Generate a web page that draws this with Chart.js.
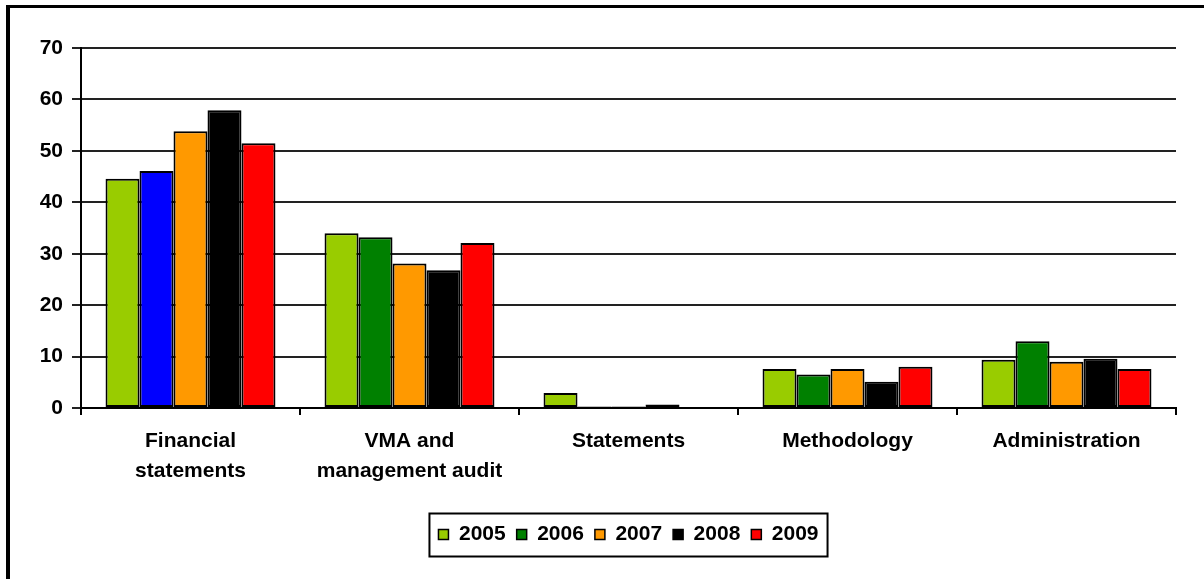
<!DOCTYPE html>
<html>
<head>
<meta charset="utf-8">
<script src="https://cdn.jsdelivr.net/npm/chart.js@4/dist/chart.umd.min.js"></script>
<style>
  html, body { margin: 0; padding: 0; background: #fff; overflow: hidden; }
  #wrap { position: relative; width: 1204px; height: 579px; }
  #frame {
    position: absolute; left: 6px; top: 5px; width: 1300px; height: 700px;
    border-top: 3px solid #000; border-left: 4px solid #000;
  }
  #chart { position: absolute; left: 0; top: 0; }
</style>
</head>
<body>
<div id="wrap">
  <div id="frame"></div>
  <canvas id="chart" width="1204" height="579"></canvas>
</div>
<script>
// categories and yearly values
const categories = [
  ['Financial', 'statements'],
  ['VMA and', 'management audit'],
  'Statements',
  'Methodology',
  'Administration'
];
const years = ['2005', '2006', '2007', '2008', '2009'];
const values2005 = [44.6, 34.0, 2.9, 7.6, 9.4];
const values2006 = [46.1, 33.2, 0.3, 6.5, 13.0];
const values2007 = [53.8, 28.1, 0.3, 7.6, 9.0];
const values2008 = [57.9, 26.8, 0.7, 5.1, 9.6];
const values2009 = [51.5, 32.1, 0, 8.0, 7.6];
const yTicks = [0, 10, 20, 30, 40, 50, 60, 70];

const FONT = { family: 'Arial, "Liberation Sans", sans-serif', size: 21, weight: 'bold', lineHeight: 1.43 };

// first 2006 bar is blue, the rest green
const colors2006 = ['#0000ff', '#008000', '#008000', '#008000', '#008000'];

function ds(label, data, color) {
  return {
    label: label,
    data: data,
    backgroundColor: color,
    borderColor: '#000',
    borderWidth: 2,
    borderSkipped: false
  };
}

// box drawn round the legend items
const legendFrame = {
  id: 'legendFrame',
  afterDraw(chart) {
    const boxes = chart.legend.legendHitBoxes;
    if (!boxes || !boxes.length) return;
    const l = Math.min(...boxes.map(b => b.left)) - 9;
    const r = Math.max(...boxes.map(b => b.left + b.width)) + 9;
    const cy = boxes[0].top + boxes[0].height / 2;
    const ctx = chart.ctx;
    ctx.save();
    ctx.strokeStyle = '#000';
    ctx.lineWidth = 2;
    ctx.strokeRect(l, cy - 21, r - l, 43);
    ctx.restore();
  }
};

new Chart(document.getElementById('chart'), {
  type: 'bar',
  data: {
    labels: categories,
    datasets: [
      ds(years[0], values2005, '#99cc00'),
      ds(years[1], values2006, colors2006),
      ds(years[2], values2007, '#ff9900'),
      ds(years[3], values2008, '#000000'),
      ds(years[4], values2009, '#ff0000')
    ]
  },
  options: {
    responsive: false,
    animation: false,
    layout: { padding: { top: 48, right: 28, left: 0, bottom: 24 } },
    datasets: { bar: { categoryPercentage: 0.776, barPercentage: 1.0 } },
    scales: {
      x: {
        grid: { drawOnChartArea: false, color: '#000', lineWidth: 2, tickLength: 7, offset: true },
        border: { color: '#000', width: 2 },
        ticks: { color: '#000', font: FONT, padding: 11, maxRotation: 0, autoSkip: false },
        afterFit: s => { s.height = 105; }
      },
      y: {
        min: 0,
        max: 70,
        afterBuildTicks: s => { s.ticks = yTicks.map(v => ({ value: v })); },
        grid: { color: '#222', lineWidth: 2, tickLength: 9 },
        border: { color: '#000', width: 2 },
        ticks: { color: '#000', font: FONT, padding: 9 },
        afterFit: s => { s.width = 81; }
      }
    },
    plugins: {
      tooltip: { enabled: false },
      legend: {
        position: 'bottom',
        fullSize: false,
        labels: {
          color: '#000',
          font: FONT,
          boxWidth: 10,
          boxHeight: 10,
          padding: 11,
          generateLabels: chart => chart.data.datasets.map((d, i) => ({
            text: d.label,
            fillStyle: Array.isArray(d.backgroundColor) ? d.backgroundColor[1] : d.backgroundColor,
            strokeStyle: '#000',
            lineWidth: 1.5,
            datasetIndex: i,
            fontColor: '#000'
          }))
        }
      }
    }
  },
  plugins: [legendFrame]
});
</script>
</body>
</html>
